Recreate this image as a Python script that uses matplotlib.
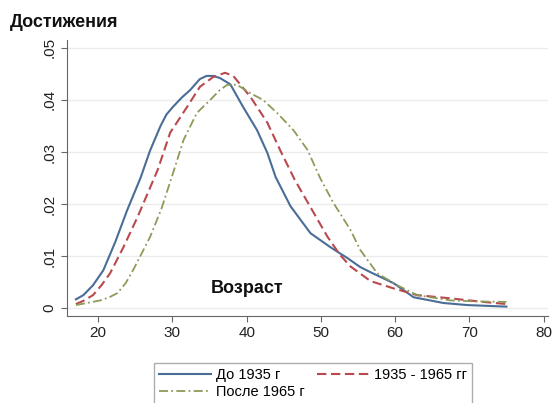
import numpy as np
import matplotlib
matplotlib.use('Agg')
import matplotlib.pyplot as plt

plt.rcParams['font.family'] = ['Liberation Sans', 'DejaVu Sans']

# kernel density curves
age_before = [17.0, 18.0, 19.3, 20.7, 22.3, 23.9, 25.7, 27.0, 28.4, 29.2, 30.1, 31.3, 32.4, 33.7,
              34.6, 35.5, 36.4, 37.8, 39.5, 41.4, 42.8, 43.9, 45.9, 48.6, 51.3, 53.6, 55.3,
              56.7, 59.8, 62.5, 66.5, 69.7, 75.0]
dens_before = [0.0017, 0.0025, 0.0044, 0.0073, 0.0127, 0.0188, 0.0250, 0.0303, 0.0350, 0.0372,
               0.0387, 0.0405, 0.0419, 0.0440, 0.0446, 0.0446, 0.0442, 0.0430, 0.0387, 0.0342,
               0.0298, 0.0252, 0.0196, 0.0144, 0.0117, 0.0096, 0.0079, 0.0069, 0.0048, 0.0021,
               0.0010, 0.0006, 0.0003]

age_mid = [17.0, 18.0, 19.3, 20.5, 21.6, 23.4, 25.3, 26.8, 28.0, 29.7, 32.0, 33.7, 35.5, 37.1,
           38.2, 40.5, 42.8, 44.5, 46.5, 48.6, 50.9, 52.6, 54.0, 56.7, 59.8, 63.0, 67.4, 71.9, 75.0]
dens_mid = [0.0008, 0.0014, 0.0025, 0.0045, 0.0067, 0.0117, 0.0175, 0.0225, 0.0265, 0.0337,
            0.0387, 0.0425, 0.0444, 0.0452, 0.0446, 0.0406, 0.0356, 0.0304, 0.0246, 0.0194,
            0.0137, 0.0102, 0.0080, 0.0052, 0.0038, 0.0025, 0.0019, 0.0012, 0.0008]

age_after = [17.0, 18.5, 20.3, 21.5, 22.6, 23.7, 24.7, 27.0, 28.5, 30.1, 31.5, 33.3, 35.1, 36.4,
             37.4, 38.7, 40.5, 42.2, 44.1, 46.3, 48.2, 49.9, 51.7, 54.0, 55.3, 57.6, 60.3, 63.0,
             67.4, 71.0, 75.0]
dens_after = [0.0006, 0.0010, 0.0015, 0.0021, 0.0029, 0.0048, 0.0073, 0.0137, 0.0190, 0.0260,
              0.0323, 0.0375, 0.0400, 0.0419, 0.0429, 0.0429, 0.0413, 0.0400, 0.0375, 0.0342,
              0.0304, 0.0250, 0.0202, 0.0150, 0.0112, 0.0067, 0.0044, 0.0025, 0.0015, 0.0013,
              0.0012]

labels = ['До 1935 г', '1935 - 1965 гг', 'После 1965 г']
xticks = [20, 30, 40, 50, 60, 70, 80]
yticks = [0, 0.01, 0.02, 0.03, 0.04, 0.05]
ytick_labels = ['0', '.01', '.02', '.03', '.04', '.05']

fig = plt.figure(figsize=(5.52, 4.03), dpi=100)
ax = fig.add_axes([67/552, 1 - 316/403, (548 - 67)/552, (316 - 40)/403])

l1, = ax.plot(age_before, dens_before, color='#4a6d98', lw=1.5, label=labels[0])
l2, = ax.plot(age_mid, dens_mid, color='#b9494f', lw=1.5, dashes=(4.5, 2.2), label=labels[1])
l3, = ax.plot(age_after, dens_after, color='#8c9b58', lw=1.3, dashes=(5, 1.8, 1, 1.8), label=labels[2])

ax.set_xlim(15.8, 80.6)
ax.set_ylim(-0.0015, 0.0515)
ax.set_xticks(xticks)
ax.set_yticks(yticks)
ax.set_yticklabels(ytick_labels, rotation=90, va='center')
ax.yaxis.grid(True, color='#ececec', lw=1)
ax.set_axisbelow(True)
for s in ['top', 'right']:
    ax.spines[s].set_visible(False)
for s in ['left', 'bottom']:
    ax.spines[s].set_color('#666666')
ax.tick_params(colors='#666666', labelcolor='#222222', labelsize=11, length=4)

ax.text(40, 0.0022, 'Возраст', ha='center', va='bottom', fontsize=13, fontweight='bold', color='#111111')
fig.text(10/552, 1 - 27/403, 'Достижения', ha='left', va='baseline', fontsize=13,
         fontweight='bold', color='#111111')

leg = fig.legend(handles=[l1, l3, l2], ncol=2, loc='upper center',
                 bbox_to_anchor=(313/552, 1 - 363/403), fontsize=10.5, frameon=True,
                 fancybox=False, edgecolor='#999999', handlelength=3.6, columnspacing=0.9,
                 handletextpad=0.3, labelspacing=0.2, borderpad=0.35, borderaxespad=0)
leg.get_frame().set_linewidth(1.0)

fig.savefig('out.png', dpi=100, facecolor='white')
